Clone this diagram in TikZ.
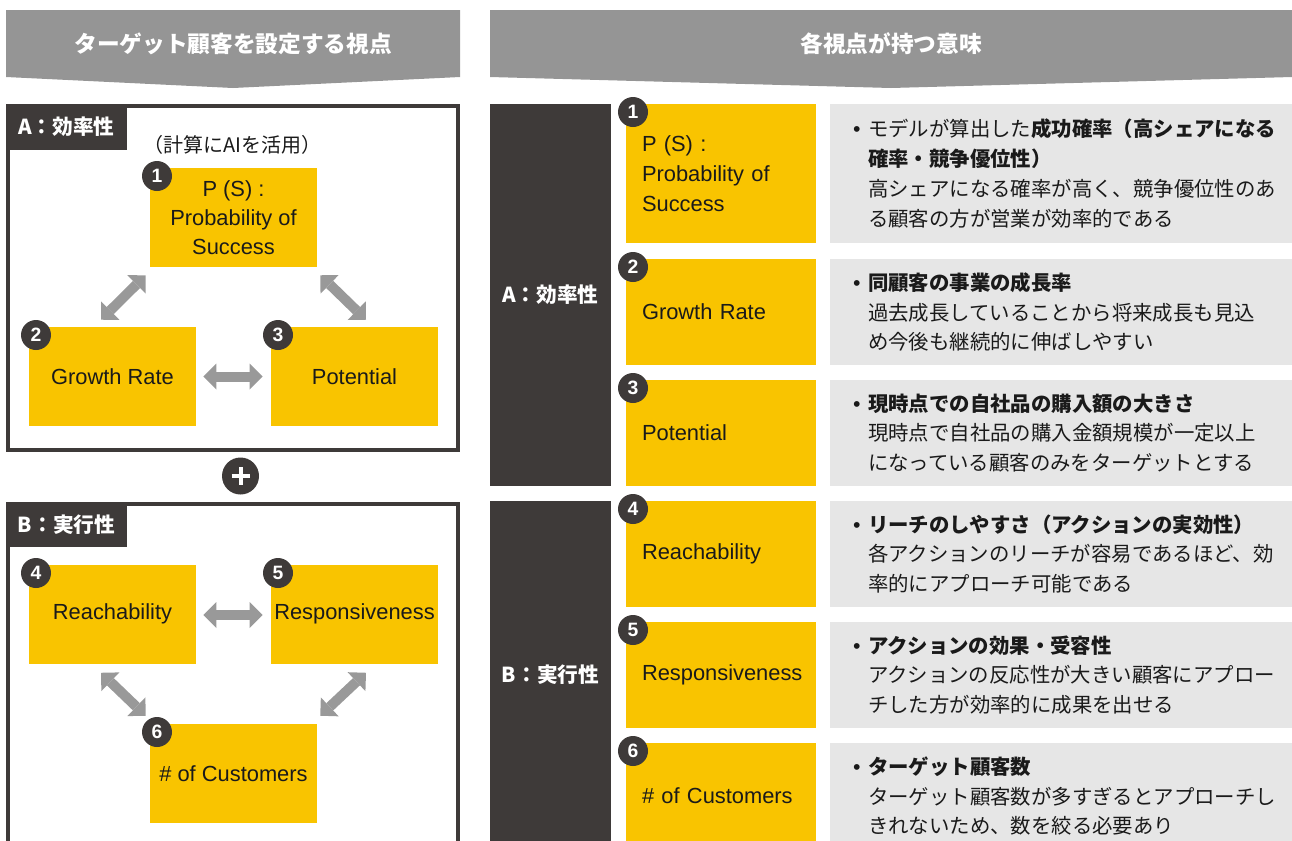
\documentclass[tikz,border=0pt]{standalone}
\usepackage{fontspec}
\setmainfont{Liberation Sans}
\newfontfamily\jp{Noto Sans CJK JP}
\usetikzlibrary{arrows.meta}
\definecolor{dark}{HTML}{3E3A39}
\definecolor{ylw}{HTML}{F9C400}
\definecolor{hdr}{HTML}{959595}
\definecolor{lgray}{HTML}{E6E6E6}
\definecolor{agray}{HTML}{999999}
\definecolor{txt}{HTML}{1A1A1A}
\newcommand{\bul}{\makebox[11.25pt][l]{\fontspec{Liberation Sans}\fontsize{16}{16}\selectfont •}}
\newcommand{\ind}{\hspace*{11.25pt}}
\begin{document}
\begin{tikzpicture}[x=0.75pt,y=-0.75pt,
  hdrtext/.style={text=white,font=\jp\bfseries\fontsize{17}{20}\selectfont},
  panel/.style={draw=dark,line width=3pt},
  tag/.style={fill=dark,text=white,inner sep=0,font=\jp\bfseries\fontsize{15.5}{18}\selectfont},
  ybox/.style={fill=ylw,inner sep=0,text=txt,align=center,minimum width=125.25pt,minimum height=74.25pt,font=\fontsize{16.4}{21.75}\selectfont},
  rybox/.style={fill=ylw,inner ysep=0,inner xsep=12pt,text width=118.5pt,align=left,text=txt,font=\fontsize{16.4}{22.5}\selectfont},
  gbox/.style={fill=lgray,inner ysep=0,inner xsep=17.25pt,text width=312pt,align=left,text=txt,font=\jp\fontsize{15.3}{22.4}\selectfont},
  numc/.style={circle,fill=dark,text=white,minimum size=22.5pt,inner sep=0,font=\bfseries\fontsize{14.5}{15}\selectfont},
  dbl/.style={draw=agray,line width=7.5pt,{Triangle[length=9.75pt,width=19.5pt,line width=0pt]}-{Triangle[length=9.75pt,width=19.5pt,line width=0pt]}}
]
\useasboundingbox (0,0) rectangle (1292,840);
\clip (0,0) rectangle (1292,840);
% header banners
\fill[hdr] (6,10) -- (460,10) -- (460,77) -- (233,88) -- (6,77) -- cycle;
\fill[hdr] (490,10) -- (1292,10) -- (1292,77) -- (891,88) -- (490,77) -- cycle;
\node[hdrtext] (h1) at (233,44) {ターゲット顧客を設定する視点};
\node[hdrtext] (h2) at (891,44) {各視点が持つ意味};
% panels
\draw[panel] (8,106) rectangle (458,450);
\draw[panel] (8,870) -- (8,504) -- (458,504) -- (458,870);
\node[tag,minimum width=90.75pt,minimum height=34.5pt] (ta) at (66.5,127) {A：効率性};
\node[tag,minimum width=90.75pt,minimum height=33.75pt] (tb) at (66.5,524.5) {B：実行性};
\node[text=txt,font=\jp\fontsize{15}{17}\selectfont] (ai) at (232.5,145) {（計算にAIを活用）};
% left boxes
\node[ybox] (b1) at (233.5,217.5) {P (S) :\\Probability of\\Success};
\node[ybox] (b2) at (112.5,376.5) {Growth Rate};
\node[ybox] (b3) at (354.5,376.5) {Potential};
\node[ybox] (b4) at (112.5,614) {Reachability};
\node[ybox] (b5) at (354.5,614) {Responsiveness};
\node[ybox] (b6) at (233.5,773.5) {\# of Customers};
\node[numc] (c1) at (157,176) {1};
\node[numc] (c2) at (36,335) {2};
\node[numc] (c3) at (278,335) {3};
\node[numc] (c4) at (36,573) {4};
\node[numc] (c5) at (278,573) {5};
\node[numc] (c6) at (157,732) {6};
% arrows
\draw[dbl] ([shift={(-11.5,-7)}]b2.north) -- ([shift={(-4,8)}]b1.south west);
\draw[dbl] ([shift={(3,8)}]b1.south east) -- ([shift={(11.5,-7)}]b3.north);
\draw[dbl] ([shift={(7,0)}]b2.east) -- ([shift={(-8,0)}]b3.west);
\draw[dbl] ([shift={(7,1)}]b4.east) -- ([shift={(-8,1)}]b5.west);
\draw[dbl] ([shift={(-11.5,9)}]b4.south) -- ([shift={(-4,-8)}]b6.north west);
\draw[dbl] ([shift={(11.5,9)}]b5.south) -- ([shift={(3,-8)}]b6.north east);
% plus
\node[circle,fill=dark,minimum size=27.75pt,inner sep=0] (plus) at (240.5,476) {};
\draw[white,line width=3pt] (plus.center) ++(-9,0) -- ++(18,0);
\draw[white,line width=3pt] (plus.center) ++(0,-9) -- ++(0,18);
% right dark columns
\node[tag,minimum width=90.75pt,minimum height=286.5pt] (ca) at (550.5,295) {A：効率性};
\node[tag,minimum width=90.75pt,minimum height=261pt] (cb) at (550.5,675) {B：実行性};
% right yellow boxes
\node[rybox,minimum height=104.25pt] (r1) at (721,173.5) {P (S) :\\Probability of\\Success};
\node[rybox,minimum height=79.5pt] (r2) at (721,312) {Growth Rate};
\node[rybox,minimum height=79.5pt] (r3) at (721,433) {Potential};
\node[rybox,minimum height=79.5pt] (r4) at (721,554) {Reachability};
\node[rybox,minimum height=79.5pt] (r5) at (721,675) {Responsiveness};
\node[rybox,minimum height=79.5pt] (r6) at (721,796) {\# of Customers};
\node[numc] (d1) at (633,112) {1};
\node[numc] (d2) at (633,267) {2};
\node[numc] (d3) at (633,388) {3};
\node[numc] (d4) at (633,509) {4};
\node[numc] (d5) at (633,630) {5};
\node[numc] (d6) at (633,751) {6};
% gray description boxes
\node[gbox,minimum height=104.25pt] (g1) at (1061,173.5) {\bul モデルが算出した{\bfseries 成功確率（高シェアになる}\\\ind{\bfseries 確率・競争優位性）}\\\ind 高シェアになる確率が高く、競争優位性のあ\\\ind る顧客の方が営業が効率的である};
\node[gbox,minimum height=79.5pt] (g2) at (1061,312) {\bul{\bfseries 同顧客の事業の成長率}\\\ind 過去成長していることから将来成長も見込\\\ind め今後も継続的に伸ばしやすい};
\node[gbox,minimum height=79.5pt] (g3) at (1061,433) {\bul{\bfseries 現時点での自社品の購入額の大きさ}\\\ind 現時点で自社品の購入金額規模が一定以上\\\ind になっている顧客のみをターゲットとする};
\node[gbox,minimum height=79.5pt] (g4) at (1061,554) {\bul{\bfseries リーチのしやすさ（アクションの実効性）}\\\ind 各アクションのリーチが容易であるほど、効\\\ind 率的にアプローチ可能である};
\node[gbox,minimum height=79.5pt] (g5) at (1061,675) {\bul{\bfseries アクションの効果・受容性}\\\ind アクションの反応性が大きい顧客にアプロー\\\ind チした方が効率的に成果を出せる};
\node[gbox,minimum height=79.5pt] (g6) at (1061,796) {\bul{\bfseries ターゲット顧客数}\\\ind ターゲット顧客数が多すぎるとアプローチし\\\ind きれないため、数を絞る必要あり};
\end{tikzpicture}
\end{document}
